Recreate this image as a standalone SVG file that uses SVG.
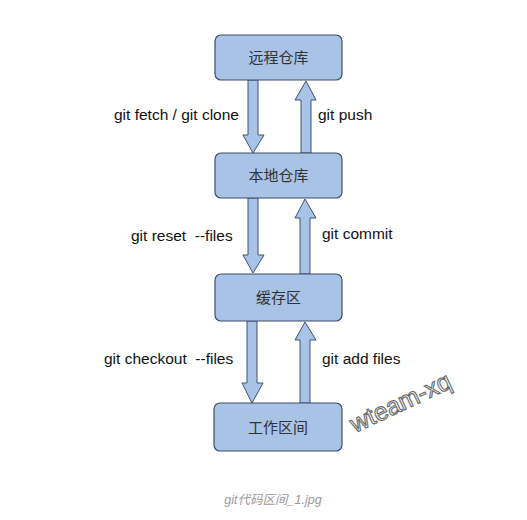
<svg xmlns="http://www.w3.org/2000/svg" width="527" height="520" viewBox="0 0 527 520">
<style>
.box{fill:#a8c3e6;stroke:#3c4e66;stroke-width:1.2}
.arr{fill:#a8c3e6;stroke:#3c5273;stroke-width:1}
.bt{font-family:"Liberation Sans","Noto Sans CJK SC",sans-serif;font-size:15px;fill:#333;text-anchor:middle}
.lb{font-family:"Liberation Sans",Arial,sans-serif;font-size:15.5px;fill:#111;white-space:pre}
.wm{font-family:"Liberation Sans",Arial,sans-serif;font-size:25px;fill:#fff;stroke:#6a6a6a;stroke-width:1.1}
.cap{font-family:"Liberation Sans","Noto Sans CJK SC",sans-serif;font-size:12.5px;font-style:italic;fill:#9a9a9a;text-anchor:middle}
</style>
<rect width="527" height="520" fill="#fff"/>
<g id="connectors">
<polygon class="arr" points="248,80 258,80 258,135 264,135 253,153 243,135 248,135"/>
<polygon class="arr" points="301,153 311,153 311,100 316,100 306,81 295,100 301,100"/>
<polygon class="arr" points="248,198 258,198 258,255 264,255 253,273 243,255 248,255"/>
<polygon class="arr" points="300,274 310,274 310,218 316,218 305,199 295,218 300,218"/>
<polygon class="arr" points="247,321 257,321 257,383 263,383 252,403 242,383 247,383"/>
<polygon class="arr" points="300,403 310,403 310,340 316,340 305,322 295,340 300,340"/>
<text class="lb" x="114" y="120">git fetch / git clone</text>
<text class="lb" x="318" y="120">git push</text>
<text class="lb" x="131" y="241" xml:space="preserve">git reset  --files</text>
<text class="lb" x="322" y="239">git commit</text>
<text class="lb" x="104" y="364" xml:space="preserve">git checkout  --files</text>
<text class="lb" x="322" y="364">git add files</text>
</g>
<g id="remote"><rect class="box" x="215" y="35" width="127" height="45" rx="6"/><text class="bt" x="278.5" y="63">远程仓库</text></g>
<g id="local"><rect class="box" x="215" y="153" width="127" height="45" rx="6"/><text class="bt" x="278.5" y="181">本地仓库</text></g>
<g id="stage"><rect class="box" x="215" y="274" width="127" height="47" rx="6"/><text class="bt" x="278.5" y="303">缓存区</text></g>
<g id="work"><rect class="box" x="214" y="403" width="128" height="48" rx="6"/><text class="bt" x="278" y="433">工作区间</text></g>
<text class="wm" transform="translate(355,433) rotate(-25)">wteam-xq</text>
<text class="cap" x="273" y="504">git代码区间_1.jpg</text>
</svg>
